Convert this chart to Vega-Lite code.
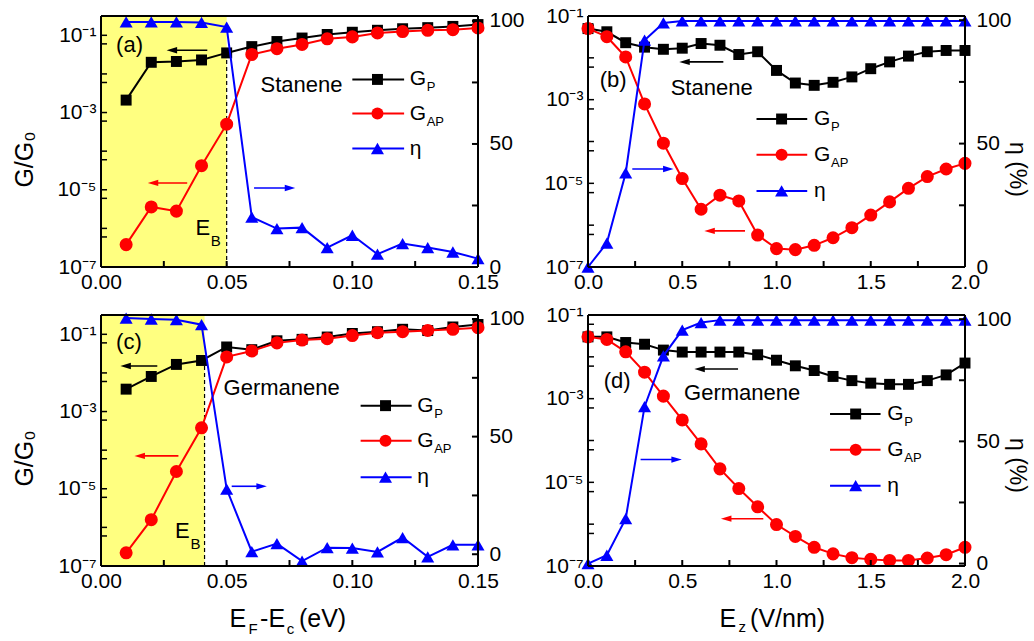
{
"$schema": "https://vega.github.io/schema/vega-lite/v6.json",
"background": "white",
"padding": {"left": 12, "top": 5, "right": 5, "bottom": 5},
"config": {
 "font": "Liberation Sans",
 "view": {"stroke": null},
 "axis": {"domain": false, "grid": false, "ticks": false, "tickSize": 0, "labelColor": "#000", "labelFont": "Liberation Sans", "labelFontSize": 21, "labelPadding": 5, "labelOverlap": false, "labelFlush": false, "titleColor": "#000", "titleFont": "Liberation Sans", "titleFontSize": 25, "titleFontWeight": "normal"},
 "axisBottom": {"labelPadding": 4},
 "axisRight": {"labelPadding": 11},
 "text": {"font": "Liberation Sans", "color": "#000"}
},
"datasets": {
 "series": [
  {"p":"a","x":0.01,"gp":0.0021,"gap":3.8e-7,"eta":99.6},
  {"p":"a","x":0.02,"gp":0.020,"gap":3.6e-6,"eta":99.6},
  {"p":"a","x":0.03,"gp":0.021,"gap":2.8e-6,"eta":99.6},
  {"p":"a","x":0.04,"gp":0.023,"gap":4.2e-5,"eta":99.4},
  {"p":"a","x":0.05,"gp":0.035,"gap":5.0e-4,"eta":97.5},
  {"p":"a","x":0.06,"gp":0.051,"gap":0.032,"eta":20.3},
  {"p":"a","x":0.07,"gp":0.069,"gap":0.045,"eta":15.6},
  {"p":"a","x":0.08,"gp":0.085,"gap":0.058,"eta":16.0},
  {"p":"a","x":0.09,"gp":0.105,"gap":0.081,"eta":7.9},
  {"p":"a","x":0.10,"gp":0.12,"gap":0.091,"eta":12.9},
  {"p":"a","x":0.11,"gp":0.135,"gap":0.115,"eta":5.2},
  {"p":"a","x":0.12,"gp":0.148,"gap":0.125,"eta":9.5},
  {"p":"a","x":0.13,"gp":0.158,"gap":0.135,"eta":7.9},
  {"p":"a","x":0.14,"gp":0.17,"gap":0.14,"eta":6.1},
  {"p":"a","x":0.15,"gp":0.19,"gap":0.155,"eta":3.4},
  {"p":"b","x":0.0,"gp":0.050,"gap":0.050,"eta":0},
  {"p":"b","x":0.1,"gp":0.042,"gap":0.032,"eta":9.7},
  {"p":"b","x":0.2,"gp":0.023,"gap":0.0105,"eta":38.1},
  {"p":"b","x":0.3,"gp":0.018,"gap":7.9e-4,"eta":91.9},
  {"p":"b","x":0.4,"gp":0.016,"gap":9.1e-5,"eta":98.9},
  {"p":"b","x":0.5,"gp":0.017,"gap":1.3e-5,"eta":99.7},
  {"p":"b","x":0.6,"gp":0.022,"gap":2.4e-6,"eta":99.7},
  {"p":"b","x":0.7,"gp":0.020,"gap":5.2e-6,"eta":99.7},
  {"p":"b","x":0.8,"gp":0.012,"gap":3.8e-6,"eta":99.7},
  {"p":"b","x":0.9,"gp":0.014,"gap":5.8e-7,"eta":99.7},
  {"p":"b","x":1.0,"gp":0.0050,"gap":2.75e-7,"eta":99.7},
  {"p":"b","x":1.1,"gp":0.0025,"gap":2.6e-7,"eta":99.7},
  {"p":"b","x":1.2,"gp":0.0022,"gap":3.3e-7,"eta":99.7},
  {"p":"b","x":1.3,"gp":0.0026,"gap":5.0e-7,"eta":99.7},
  {"p":"b","x":1.4,"gp":0.0035,"gap":8.7e-7,"eta":99.7},
  {"p":"b","x":1.5,"gp":0.0055,"gap":1.74e-6,"eta":99.7},
  {"p":"b","x":1.6,"gp":0.0080,"gap":3.6e-6,"eta":99.7},
  {"p":"b","x":1.7,"gp":0.011,"gap":7.6e-6,"eta":99.7},
  {"p":"b","x":1.8,"gp":0.014,"gap":1.45e-5,"eta":99.7},
  {"p":"b","x":1.9,"gp":0.015,"gap":2.2e-5,"eta":99.7},
  {"p":"b","x":2.0,"gp":0.015,"gap":3.0e-5,"eta":99.7},
  {"p":"c","x":0.01,"gp":0.0038,"gap":2.2e-7,"eta":100.4},
  {"p":"c","x":0.02,"gp":0.0081,"gap":1.58e-6,"eta":100},
  {"p":"c","x":0.03,"gp":0.0166,"gap":2.8e-5,"eta":99.7},
  {"p":"c","x":0.04,"gp":0.021,"gap":3.8e-4,"eta":97.6},
  {"p":"c","x":0.05,"gp":0.047,"gap":0.026,"eta":27.7},
  {"p":"c","x":0.06,"gp":0.040,"gap":0.037,"eta":1.1},
  {"p":"c","x":0.07,"gp":0.068,"gap":0.060,"eta":4.5},
  {"p":"c","x":0.08,"gp":0.074,"gap":0.071,"eta":-2.9},
  {"p":"c","x":0.09,"gp":0.085,"gap":0.077,"eta":2.8},
  {"p":"c","x":0.10,"gp":0.105,"gap":0.093,"eta":2.6},
  {"p":"c","x":0.11,"gp":0.117,"gap":0.11,"eta":1.0},
  {"p":"c","x":0.12,"gp":0.135,"gap":0.117,"eta":7.1},
  {"p":"c","x":0.13,"gp":0.125,"gap":0.126,"eta":-1.1},
  {"p":"c","x":0.14,"gp":0.155,"gap":0.135,"eta":4.0},
  {"p":"c","x":0.15,"gp":0.18,"gap":0.148,"eta":4.0},
  {"p":"d","x":0.0,"gp":0.030,"gap":0.030,"eta":0},
  {"p":"d","x":0.1,"gp":0.030,"gap":0.026,"eta":3.4},
  {"p":"d","x":0.2,"gp":0.022,"gap":0.0132,"eta":18.4},
  {"p":"d","x":0.3,"gp":0.020,"gap":0.0043,"eta":64.2},
  {"p":"d","x":0.4,"gp":0.0145,"gap":0.00115,"eta":85.0},
  {"p":"d","x":0.5,"gp":0.013,"gap":3.1e-4,"eta":95.5},
  {"p":"d","x":0.6,"gp":0.013,"gap":8.3e-5,"eta":98.6},
  {"p":"d","x":0.7,"gp":0.013,"gap":2.1e-5,"eta":99.6},
  {"p":"d","x":0.8,"gp":0.013,"gap":7.1e-6,"eta":99.6},
  {"p":"d","x":0.9,"gp":0.0112,"gap":2.6e-6,"eta":99.6},
  {"p":"d","x":1.0,"gp":0.0083,"gap":9.8e-7,"eta":99.6},
  {"p":"d","x":1.1,"gp":0.0061,"gap":5.1e-7,"eta":99.6},
  {"p":"d","x":1.2,"gp":0.0047,"gap":2.8e-7,"eta":99.6},
  {"p":"d","x":1.3,"gp":0.0034,"gap":1.95e-7,"eta":99.6},
  {"p":"d","x":1.4,"gp":0.0027,"gap":1.58e-7,"eta":99.6},
  {"p":"d","x":1.5,"gp":0.00235,"gap":1.44e-7,"eta":99.6},
  {"p":"d","x":1.6,"gp":0.0022,"gap":1.36e-7,"eta":99.6},
  {"p":"d","x":1.7,"gp":0.0022,"gap":1.36e-7,"eta":99.6},
  {"p":"d","x":1.8,"gp":0.0027,"gap":1.55e-7,"eta":99.6},
  {"p":"d","x":1.9,"gp":0.0037,"gap":1.86e-7,"eta":99.6},
  {"p":"d","x":2.0,"gp":0.0071,"gap":2.8e-7,"eta":99.6}
 ],
 "shade": [
  {"p":"a","x0":0,"x1":0.05,"ylo":1e-7,"ytop":0.035},
  {"p":"c","x0":0,"x1":0.0412,"ylo":1e-7,"ytop":0.018}
 ],
 "notes": [
  {"p":"a","x":0.01134,"y":0.0553,"t":"(a)","sub":""},
  {"p":"a","x":0.0798,"y":0.0051,"t":"Stanene","sub":""},
  {"p":"a","x":0.0405,"y":1.04e-6,"t":"E","sub":"B"},
  {"p":"b","x":0.133,"y":0.0030,"t":"(b)","sub":""},
  {"p":"b","x":0.656,"y":0.0019,"t":"Stanene","sub":""},
  {"p":"c","x":0.0111,"y":0.062,"t":"(c)","sub":""},
  {"p":"c","x":0.0719,"y":0.0041,"t":"Germanene","sub":""},
  {"p":"c","x":0.0324,"y":7.9e-7,"t":"E","sub":"B"},
  {"p":"d","x":0.155,"y":0.0027,"t":"(d)","sub":""},
  {"p":"d","x":0.818,"y":0.00135,"t":"Germanene","sub":""}
 ],
 "legend": [
  {"p":"a","lx1":0.100,"lx2":0.1206,"lxm":0.110,"lxt":0.1228,"y":7.2e-3,"s":"GP","t":"G","sub":"P"},
  {"p":"a","lx1":0.100,"lx2":0.1206,"lxm":0.110,"lxt":0.1228,"y":9.4e-4,"s":"GAP","t":"G","sub":"AP"},
  {"p":"a","lx1":0.100,"lx2":0.1206,"lxm":0.110,"lxt":0.1228,"y":1.17e-4,"s":"eta","t":"η","sub":""},
  {"p":"b","lx1":0.894,"lx2":1.163,"lxm":1.027,"lxt":1.199,"y":3.45e-4,"s":"GP","t":"G","sub":"P"},
  {"p":"b","lx1":0.894,"lx2":1.163,"lxm":1.027,"lxt":1.199,"y":4.8e-5,"s":"GAP","t":"G","sub":"AP"},
  {"p":"b","lx1":0.894,"lx2":1.163,"lxm":1.027,"lxt":1.199,"y":6.6e-6,"s":"eta","t":"η","sub":""},
  {"p":"c","lx1":0.1033,"lx2":0.1236,"lxm":0.1132,"lxt":0.1258,"y":1.42e-3,"s":"GP","t":"G","sub":"P"},
  {"p":"c","lx1":0.1033,"lx2":0.1236,"lxm":0.1132,"lxt":0.1258,"y":1.76e-4,"s":"GAP","t":"G","sub":"AP"},
  {"p":"c","lx1":0.1033,"lx2":0.1236,"lxm":0.1132,"lxt":0.1258,"y":2.0e-5,"s":"eta","t":"η","sub":""},
  {"p":"d","lx1":1.284,"lx2":1.552,"lxm":1.420,"lxt":1.588,"y":4.3e-4,"s":"GP","t":"G","sub":"P"},
  {"p":"d","lx1":1.284,"lx2":1.552,"lxm":1.420,"lxt":1.588,"y":6.0e-5,"s":"GAP","t":"G","sub":"AP"},
  {"p":"d","lx1":1.284,"lx2":1.552,"lxm":1.420,"lxt":1.588,"y":8.3e-6,"s":"eta","t":"η","sub":""}
 ],
 "arrows": [
  {"p":"a","x1":0.0423,"x2":0.0282,"y":0.041,"s":"GP","dir":"L"},
  {"p":"a","x1":0.0343,"x2":0.0207,"y":1.5e-5,"s":"GAP","dir":"L"},
  {"p":"a","x1":0.0609,"x2":0.0752,"y":1.11e-5,"s":"eta","dir":"R"},
  {"p":"b","x1":0.718,"x2":0.512,"y":8.0e-3,"s":"GP","dir":"L"},
  {"p":"b","x1":0.235,"x2":0.426,"y":2.2e-5,"s":"eta","dir":"R"},
  {"p":"b","x1":0.833,"x2":0.645,"y":7.3e-7,"s":"GAP","dir":"L"},
  {"p":"c","x1":0.0224,"x2":0.0098,"y":0.0151,"s":"GP","dir":"L"},
  {"p":"c","x1":0.0308,"x2":0.0154,"y":7.1e-5,"s":"GAP","dir":"L"},
  {"p":"c","x1":0.052,"x2":0.0639,"y":1.16e-5,"s":"eta","dir":"R"},
  {"p":"d","x1":0.796,"x2":0.592,"y":5.1e-3,"s":"GP","dir":"L"},
  {"p":"d","x1":0.279,"x2":0.470,"y":3.5e-5,"s":"eta","dir":"R"},
  {"p":"d","x1":0.930,"x2":0.733,"y":1.35e-6,"s":"GAP","dir":"L"}
 ],
 "segs": [
  {"p":"a","g":"f","s":"GP","x1":0,"x2":0,"y1":0,"y2":102},{"p":"a","g":"f","s":"GP","x1":0.15,"x2":0.15,"y1":0,"y2":102},{"p":"a","g":"f","s":"GP","x1":0,"x2":0.15,"y1":0,"y2":0},{"p":"a","g":"f","s":"GP","x1":0,"x2":0.15,"y1":102,"y2":102},
  {"p":"a","g":"t","s":"GP","x1":0.025,"x2":0.025,"y1":0,"y2":2.44},{"p":"a","g":"t","s":"GP","x1":0.05,"x2":0.05,"y1":0,"y2":2.44},{"p":"a","g":"t","s":"GP","x1":0.075,"x2":0.075,"y1":0,"y2":2.44},{"p":"a","g":"t","s":"GP","x1":0.1,"x2":0.1,"y1":0,"y2":2.44},{"p":"a","g":"t","s":"GP","x1":0.125,"x2":0.125,"y1":0,"y2":2.44},
  {"p":"a","g":"t","s":"GP","x1":0.1476,"x2":0.15,"y1":25,"y2":25},{"p":"a","g":"t","s":"GP","x1":0.1476,"x2":0.15,"y1":50,"y2":50},{"p":"a","g":"t","s":"GP","x1":0.1476,"x2":0.15,"y1":75,"y2":75},{"p":"a","g":"t","s":"GP","x1":0.1476,"x2":0.15,"y1":100,"y2":100},
  {"p":"b","g":"f","s":"GP","x1":0,"x2":0,"y1":0,"y2":101.7},{"p":"b","g":"f","s":"GP","x1":2,"x2":2,"y1":0,"y2":101.7},{"p":"b","g":"f","s":"GP","x1":0,"x2":2,"y1":0,"y2":0},{"p":"b","g":"f","s":"GP","x1":0,"x2":2,"y1":101.7,"y2":101.7},
  {"p":"b","g":"t","s":"GP","x1":0.25,"x2":0.25,"y1":0,"y2":2.43},{"p":"b","g":"t","s":"GP","x1":0.5,"x2":0.5,"y1":0,"y2":2.43},{"p":"b","g":"t","s":"GP","x1":0.75,"x2":0.75,"y1":0,"y2":2.43},{"p":"b","g":"t","s":"GP","x1":1,"x2":1,"y1":0,"y2":2.43},{"p":"b","g":"t","s":"GP","x1":1.25,"x2":1.25,"y1":0,"y2":2.43},{"p":"b","g":"t","s":"GP","x1":1.5,"x2":1.5,"y1":0,"y2":2.43},{"p":"b","g":"t","s":"GP","x1":1.75,"x2":1.75,"y1":0,"y2":2.43},
  {"p":"b","g":"t","s":"GP","x1":1.968,"x2":2,"y1":25,"y2":25},{"p":"b","g":"t","s":"GP","x1":1.968,"x2":2,"y1":50,"y2":50},{"p":"b","g":"t","s":"GP","x1":1.968,"x2":2,"y1":75,"y2":75},{"p":"b","g":"t","s":"GP","x1":1.968,"x2":2,"y1":100,"y2":100},
  {"p":"c","g":"f","s":"GP","x1":0,"x2":0,"y1":-5,"y2":101.7},{"p":"c","g":"f","s":"GP","x1":0.15,"x2":0.15,"y1":-5,"y2":101.7},{"p":"c","g":"f","s":"GP","x1":0,"x2":0.15,"y1":-5,"y2":-5},{"p":"c","g":"f","s":"GP","x1":0,"x2":0.15,"y1":101.7,"y2":101.7},
  {"p":"c","g":"t","s":"GP","x1":0.025,"x2":0.025,"y1":-5,"y2":-2.45},{"p":"c","g":"t","s":"GP","x1":0.05,"x2":0.05,"y1":-5,"y2":-2.45},{"p":"c","g":"t","s":"GP","x1":0.075,"x2":0.075,"y1":-5,"y2":-2.45},{"p":"c","g":"t","s":"GP","x1":0.1,"x2":0.1,"y1":-5,"y2":-2.45},{"p":"c","g":"t","s":"GP","x1":0.125,"x2":0.125,"y1":-5,"y2":-2.45},
  {"p":"c","g":"t","s":"GP","x1":0.1476,"x2":0.15,"y1":0,"y2":0},{"p":"c","g":"t","s":"GP","x1":0.1476,"x2":0.15,"y1":25,"y2":25},{"p":"c","g":"t","s":"GP","x1":0.1476,"x2":0.15,"y1":50,"y2":50},{"p":"c","g":"t","s":"GP","x1":0.1476,"x2":0.15,"y1":75,"y2":75},{"p":"c","g":"t","s":"GP","x1":0.1476,"x2":0.15,"y1":100,"y2":100},
  {"p":"d","g":"f","s":"GP","x1":0,"x2":0,"y1":-1,"y2":101.7},{"p":"d","g":"f","s":"GP","x1":2,"x2":2,"y1":-1,"y2":101.7},{"p":"d","g":"f","s":"GP","x1":0,"x2":2,"y1":-1,"y2":-1},{"p":"d","g":"f","s":"GP","x1":0,"x2":2,"y1":101.7,"y2":101.7},
  {"p":"d","g":"t","s":"GP","x1":0.25,"x2":0.25,"y1":-1,"y2":1.45},{"p":"d","g":"t","s":"GP","x1":0.5,"x2":0.5,"y1":-1,"y2":1.45},{"p":"d","g":"t","s":"GP","x1":0.75,"x2":0.75,"y1":-1,"y2":1.45},{"p":"d","g":"t","s":"GP","x1":1,"x2":1,"y1":-1,"y2":1.45},{"p":"d","g":"t","s":"GP","x1":1.25,"x2":1.25,"y1":-1,"y2":1.45},{"p":"d","g":"t","s":"GP","x1":1.5,"x2":1.5,"y1":-1,"y2":1.45},{"p":"d","g":"t","s":"GP","x1":1.75,"x2":1.75,"y1":-1,"y2":1.45},
  {"p":"d","g":"t","s":"GP","x1":1.968,"x2":2,"y1":0,"y2":0},{"p":"d","g":"t","s":"GP","x1":1.968,"x2":2,"y1":25,"y2":25},{"p":"d","g":"t","s":"GP","x1":1.968,"x2":2,"y1":50,"y2":50},{"p":"d","g":"t","s":"GP","x1":1.968,"x2":2,"y1":75,"y2":75},{"p":"d","g":"t","s":"GP","x1":1.968,"x2":2,"y1":100,"y2":100}
 ],
 "lticks": [
  {"p":"a","s":"GP","x1":0,"x2":0.0024,"y":6e-7},{"p":"a","s":"GP","x1":0,"x2":0.0024,"y":1e-6},{"p":"a","s":"GP","x1":0,"x2":0.0024,"y":6e-6},{"p":"a","s":"GP","x1":0,"x2":0.0024,"y":1e-5},{"p":"a","s":"GP","x1":0,"x2":0.0024,"y":6e-5},{"p":"a","s":"GP","x1":0,"x2":0.0024,"y":1e-4},{"p":"a","s":"GP","x1":0,"x2":0.0024,"y":6e-4},{"p":"a","s":"GP","x1":0,"x2":0.0024,"y":1e-3},{"p":"a","s":"GP","x1":0,"x2":0.0024,"y":6e-3},{"p":"a","s":"GP","x1":0,"x2":0.0024,"y":1e-2},{"p":"a","s":"GP","x1":0,"x2":0.0024,"y":6e-2},{"p":"a","s":"GP","x1":0,"x2":0.0024,"y":1e-1},
  {"p":"b","s":"GP","x1":0,"x2":0.0318,"y":6e-7},{"p":"b","s":"GP","x1":0,"x2":0.0318,"y":1e-6},{"p":"b","s":"GP","x1":0,"x2":0.0318,"y":6e-6},{"p":"b","s":"GP","x1":0,"x2":0.0318,"y":1e-5},{"p":"b","s":"GP","x1":0,"x2":0.0318,"y":6e-5},{"p":"b","s":"GP","x1":0,"x2":0.0318,"y":1e-4},{"p":"b","s":"GP","x1":0,"x2":0.0318,"y":6e-4},{"p":"b","s":"GP","x1":0,"x2":0.0318,"y":1e-3},{"p":"b","s":"GP","x1":0,"x2":0.0318,"y":6e-3},{"p":"b","s":"GP","x1":0,"x2":0.0318,"y":1e-2},{"p":"b","s":"GP","x1":0,"x2":0.0318,"y":6e-2},
  {"p":"c","s":"GP","x1":0,"x2":0.0024,"y":6e-7},{"p":"c","s":"GP","x1":0,"x2":0.0024,"y":1e-6},{"p":"c","s":"GP","x1":0,"x2":0.0024,"y":6e-6},{"p":"c","s":"GP","x1":0,"x2":0.0024,"y":1e-5},{"p":"c","s":"GP","x1":0,"x2":0.0024,"y":6e-5},{"p":"c","s":"GP","x1":0,"x2":0.0024,"y":1e-4},{"p":"c","s":"GP","x1":0,"x2":0.0024,"y":6e-4},{"p":"c","s":"GP","x1":0,"x2":0.0024,"y":1e-3},{"p":"c","s":"GP","x1":0,"x2":0.0024,"y":6e-3},{"p":"c","s":"GP","x1":0,"x2":0.0024,"y":1e-2},{"p":"c","s":"GP","x1":0,"x2":0.0024,"y":6e-2},{"p":"c","s":"GP","x1":0,"x2":0.0024,"y":1e-1},
  {"p":"d","s":"GP","x1":0,"x2":0.0318,"y":6e-7},{"p":"d","s":"GP","x1":0,"x2":0.0318,"y":1e-6},{"p":"d","s":"GP","x1":0,"x2":0.0318,"y":6e-6},{"p":"d","s":"GP","x1":0,"x2":0.0318,"y":1e-5},{"p":"d","s":"GP","x1":0,"x2":0.0318,"y":6e-5},{"p":"d","s":"GP","x1":0,"x2":0.0318,"y":1e-4},{"p":"d","s":"GP","x1":0,"x2":0.0318,"y":6e-4},{"p":"d","s":"GP","x1":0,"x2":0.0318,"y":1e-3},{"p":"d","s":"GP","x1":0,"x2":0.0318,"y":6e-3},{"p":"d","s":"GP","x1":0,"x2":0.0318,"y":1e-2},{"p":"d","s":"GP","x1":0,"x2":0.0318,"y":6e-2}
 ]
},
"columns": 2,
"spacing": {"row": 48, "column": 110},
"bounds": "flush",
"concat": [
 {
  "width": 377, "height": 251,
  "resolve": {"scale": {"y": "independent"}, "axis": {"x": "independent", "y": "independent"}},
  "layer": [
   {"layer": [
    {"data": {"name": "shade"}, "transform": [{"filter": "datum.p == 'a'"}],
     "mark": {"type": "rect", "color": "#ffff80"},
     "encoding": {
      "x": {"field": "x0", "type": "quantitative", "scale": {"domain": [0, 0.15], "nice": false, "zero": false},
            "axis": {"orient": "bottom", "values": [0, 0.05, 0.1, 0.15], "format": ".2f", "title": null}},
      "x2": {"field": "x1"}}},
    {"data": {"name": "shade"}, "transform": [{"filter": "datum.p == 'a'"}],
     "mark": {"type": "rule", "color": "#000", "strokeWidth": 1.2, "strokeDash": [4, 3]},
     "encoding": {
      "x": {"field": "x1", "type": "quantitative", "scale": {"domain": [0, 0.15], "nice": false, "zero": false}},
      "y": {"field": "ylo", "type": "quantitative", "scale": {"type": "log", "domain": [1e-7, 0.3162], "nice": false},
            "axis": {"orient": "left", "values": [1e-7, 1e-5, 1e-3, 1e-1], "labelExpr": "datum.value==1e-7?'10⁻⁷':datum.value==1e-5?'10⁻⁵':datum.value==0.001?'10⁻³':datum.value==0.1?'10⁻¹':''", "title": "G/G₀", "titleX": -69, "titleY": 143, "titleAngle": -90, "titleAlign": "center", "titleBaseline": "alphabetic"}},
      "y2": {"field": "ytop"}}},
    {"data": {"name": "lticks"}, "transform": [{"filter": "datum.p == 'a'"}],
     "mark": {"type": "rule", "strokeWidth": 1.5, "strokeDash": [2000, 1]},
     "encoding": {"x": {"field": "x1", "type": "quantitative", "scale": {"domain": [0, 0.15], "nice": false, "zero": false}}, "x2": {"field": "x2"},
                  "y": {"field": "y", "type": "quantitative", "scale": {"type": "log", "domain": [1e-7, 0.3162], "nice": false}},
                  "color": {"field": "s", "type": "nominal", "scale": {"domain": ["GP", "GAP", "eta"], "range": ["#000000", "#ff0000", "#0000ff"]}, "legend": null}}},
    {"data": {"name": "series"}, "transform": [{"filter": "datum.p == 'a'"}],
     "mark": {"type": "line", "color": "#000", "strokeWidth": 2},
     "encoding": {"x": {"field": "x", "type": "quantitative", "scale": {"domain": [0, 0.15], "nice": false, "zero": false}},
                  "y": {"field": "gp", "type": "quantitative", "scale": {"type": "log", "domain": [1e-7, 0.3162], "nice": false}}}},
    {"data": {"name": "series"}, "transform": [{"filter": "datum.p == 'a'"}],
     "mark": {"type": "line", "color": "#ff0000", "strokeWidth": 2},
     "encoding": {"x": {"field": "x", "type": "quantitative", "scale": {"domain": [0, 0.15], "nice": false, "zero": false}},
                  "y": {"field": "gap", "type": "quantitative", "scale": {"type": "log", "domain": [1e-7, 0.3162], "nice": false}}}},
    {"data": {"name": "series"}, "transform": [{"filter": "datum.p == 'a'"}],
     "mark": {"type": "point", "shape": "square", "filled": true, "color": "#000", "size": 120, "opacity": 1},
     "encoding": {"x": {"field": "x", "type": "quantitative", "scale": {"domain": [0, 0.15], "nice": false, "zero": false}},
                  "y": {"field": "gp", "type": "quantitative", "scale": {"type": "log", "domain": [1e-7, 0.3162], "nice": false}}}},
    {"data": {"name": "series"}, "transform": [{"filter": "datum.p == 'a'"}],
     "mark": {"type": "point", "shape": "circle", "filled": true, "color": "#ff0000", "size": 170, "opacity": 1},
     "encoding": {"x": {"field": "x", "type": "quantitative", "scale": {"domain": [0, 0.15], "nice": false, "zero": false}},
                  "y": {"field": "gap", "type": "quantitative", "scale": {"type": "log", "domain": [1e-7, 0.3162], "nice": false}}}},
    {"data": {"name": "legend"}, "transform": [{"filter": "datum.p == 'a'"}],
     "mark": {"type": "rule", "strokeWidth": 2},
     "encoding": {"x": {"field": "lx1", "type": "quantitative", "scale": {"domain": [0, 0.15], "nice": false, "zero": false}}, "x2": {"field": "lx2"},
                  "y": {"field": "y", "type": "quantitative", "scale": {"type": "log", "domain": [1e-7, 0.3162], "nice": false}},
                  "color": {"field": "s", "type": "nominal", "scale": {"domain": ["GP", "GAP", "eta"], "range": ["#000000", "#ff0000", "#0000ff"]}, "legend": null}}},
    {"data": {"name": "legend"}, "transform": [{"filter": "datum.p == 'a'"}],
     "mark": {"type": "point", "filled": true, "opacity": 1},
     "encoding": {"x": {"field": "lxm", "type": "quantitative", "scale": {"domain": [0, 0.15], "nice": false, "zero": false}},
                  "y": {"field": "y", "type": "quantitative", "scale": {"type": "log", "domain": [1e-7, 0.3162], "nice": false}},
                  "color": {"field": "s", "type": "nominal", "scale": {"domain": ["GP", "GAP", "eta"], "range": ["#000000", "#ff0000", "#0000ff"]}, "legend": null},
                  "shape": {"field": "s", "type": "nominal", "scale": {"domain": ["GP", "GAP", "eta", "L", "R"], "range": ["square", "circle", "triangle-up", "M1,-0.6L-1,0L1,0.6Z", "M-1,-0.6L1,0L-1,0.6Z"]}, "legend": null},
                  "size": {"field": "s", "type": "nominal", "scale": {"domain": ["GP", "GAP", "eta"], "range": [120, 170, 170]}, "legend": null}}},
    {"data": {"name": "legend"}, "transform": [{"filter": "datum.p == 'a'"}],
     "mark": {"type": "text", "align": "left", "baseline": "middle", "fontSize": 21},
     "encoding": {"x": {"field": "lxt", "type": "quantitative", "scale": {"domain": [0, 0.15], "nice": false, "zero": false}},
                  "y": {"field": "y", "type": "quantitative", "scale": {"type": "log", "domain": [1e-7, 0.3162], "nice": false}},
                  "text": {"field": "t"}}},
    {"data": {"name": "legend"}, "transform": [{"filter": "datum.p == 'a' && datum.sub != ''"}],
     "mark": {"type": "text", "align": "left", "baseline": "middle", "fontSize": 13, "dx": 17, "dy": 8},
     "encoding": {"x": {"field": "lxt", "type": "quantitative", "scale": {"domain": [0, 0.15], "nice": false, "zero": false}},
                  "y": {"field": "y", "type": "quantitative", "scale": {"type": "log", "domain": [1e-7, 0.3162], "nice": false}},
                  "text": {"field": "sub"}}},
    {"data": {"name": "arrows"}, "transform": [{"filter": "datum.p == 'a'"}],
     "mark": {"type": "rule", "strokeWidth": 1.6},
     "encoding": {"x": {"field": "x1", "type": "quantitative", "scale": {"domain": [0, 0.15], "nice": false, "zero": false}}, "x2": {"field": "x2"},
                  "y": {"field": "y", "type": "quantitative", "scale": {"type": "log", "domain": [1e-7, 0.3162], "nice": false}},
                  "color": {"field": "s", "type": "nominal", "scale": {"domain": ["GP", "GAP", "eta"], "range": ["#000000", "#ff0000", "#0000ff"]}, "legend": null}}},
    {"data": {"name": "arrows"}, "transform": [{"filter": "datum.p == 'a'"}],
     "mark": {"type": "point", "filled": true, "opacity": 1, "size": 110},
     "encoding": {"x": {"field": "x2", "type": "quantitative", "scale": {"domain": [0, 0.15], "nice": false, "zero": false}},
                  "y": {"field": "y", "type": "quantitative", "scale": {"type": "log", "domain": [1e-7, 0.3162], "nice": false}},
                  "color": {"field": "s", "type": "nominal", "scale": {"domain": ["GP", "GAP", "eta"], "range": ["#000000", "#ff0000", "#0000ff"]}, "legend": null},
                  "shape": {"field": "dir", "type": "nominal", "scale": {"domain": ["GP", "GAP", "eta", "L", "R"], "range": ["square", "circle", "triangle-up", "M1,-0.6L-1,0L1,0.6Z", "M-1,-0.6L1,0L-1,0.6Z"]}, "legend": null}}},
    {"data": {"name": "notes"}, "transform": [{"filter": "datum.p == 'a'"}],
     "mark": {"type": "text", "align": "center", "baseline": "middle", "fontSize": 22},
     "encoding": {"x": {"field": "x", "type": "quantitative", "scale": {"domain": [0, 0.15], "nice": false, "zero": false}},
                  "y": {"field": "y", "type": "quantitative", "scale": {"type": "log", "domain": [1e-7, 0.3162], "nice": false}},
                  "text": {"field": "t"}}},
    {"data": {"name": "notes"}, "transform": [{"filter": "datum.p == 'a' && datum.sub != ''"}],
     "mark": {"type": "text", "align": "left", "baseline": "middle", "fontSize": 15, "dx": 8, "dy": 13},
     "encoding": {"x": {"field": "x", "type": "quantitative", "scale": {"domain": [0, 0.15], "nice": false, "zero": false}},
                  "y": {"field": "y", "type": "quantitative", "scale": {"type": "log", "domain": [1e-7, 0.3162], "nice": false}},
                  "text": {"field": "sub"}}}
   ]},
   {"layer": [
    {"data": {"name": "series"}, "transform": [{"filter": "datum.p == 'a'"}],
     "mark": {"type": "line", "color": "#0000ff", "strokeWidth": 2},
     "encoding": {"x": {"field": "x", "type": "quantitative", "scale": {"domain": [0, 0.15], "nice": false, "zero": false},
                        "axis": {"orient": "top", "labels": false, "title": null}},
                  "y": {"field": "eta", "type": "quantitative", "scale": {"domain": [0, 102], "nice": false, "zero": false},
                        "axis": {"orient": "right", "values": [0, 50, 100], "title": null}}}},
    {"data": {"name": "series"}, "transform": [{"filter": "datum.p == 'a'"}],
     "mark": {"type": "point", "shape": "triangle-up", "filled": true, "color": "#0000ff", "size": 170, "opacity": 1},
     "encoding": {"x": {"field": "x", "type": "quantitative", "scale": {"domain": [0, 0.15], "nice": false, "zero": false}},
                  "y": {"field": "eta", "type": "quantitative", "scale": {"domain": [0, 102], "nice": false, "zero": false}}}},
    {"data": {"name": "segs"}, "transform": [{"filter": "datum.p == 'a'"}],
     "mark": {"type": "rule", "strokeWidth": 2, "strokeDash": [2000, 1]},
     "encoding": {"x": {"field": "x1", "type": "quantitative", "scale": {"domain": [0, 0.15], "nice": false, "zero": false}}, "x2": {"field": "x2"},
                  "y": {"field": "y1", "type": "quantitative", "scale": {"domain": [0, 102], "nice": false, "zero": false}}, "y2": {"field": "y2"},
                  "color": {"field": "s", "type": "nominal", "scale": {"domain": ["GP", "GAP", "eta"], "range": ["#000000", "#ff0000", "#0000ff"]}, "legend": null}}}
   ]}
  ]
 },
 {
  "width": 377, "height": 251,
  "resolve": {"scale": {"y": "independent"}, "axis": {"x": "independent", "y": "independent"}},
  "layer": [
   {"layer": [
    {"data": {"name": "series"}, "transform": [{"filter": "datum.p == 'b'"}],
     "mark": {"type": "line", "color": "#000", "strokeWidth": 2},
     "encoding": {"x": {"field": "x", "type": "quantitative", "scale": {"domain": [0, 2], "nice": false, "zero": false},
                        "axis": {"orient": "bottom", "values": [0, 0.5, 1, 1.5, 2], "format": ".1f", "title": null}},
                  "y": {"field": "gp", "type": "quantitative", "scale": {"type": "log", "domain": [1e-7, 0.1], "nice": false},
                        "axis": {"orient": "left", "values": [1e-7, 1e-5, 1e-3, 1e-1], "labelExpr": "datum.value==1e-7?'10⁻⁷':datum.value==1e-5?'10⁻⁵':datum.value==0.001?'10⁻³':datum.value==0.1?'10⁻¹':''", "title": null}}}},
    {"data": {"name": "lticks"}, "transform": [{"filter": "datum.p == 'b'"}],
     "mark": {"type": "rule", "strokeWidth": 1.5, "strokeDash": [2000, 1]},
     "encoding": {"x": {"field": "x1", "type": "quantitative", "scale": {"domain": [0, 2], "nice": false, "zero": false}}, "x2": {"field": "x2"},
                  "y": {"field": "y", "type": "quantitative", "scale": {"type": "log", "domain": [1e-7, 0.1], "nice": false}},
                  "color": {"field": "s", "type": "nominal", "scale": {"domain": ["GP", "GAP", "eta"], "range": ["#000000", "#ff0000", "#0000ff"]}, "legend": null}}},
    {"data": {"name": "series"}, "transform": [{"filter": "datum.p == 'b'"}],
     "mark": {"type": "line", "color": "#ff0000", "strokeWidth": 2},
     "encoding": {"x": {"field": "x", "type": "quantitative", "scale": {"domain": [0, 2], "nice": false, "zero": false}},
                  "y": {"field": "gap", "type": "quantitative", "scale": {"type": "log", "domain": [1e-7, 0.1], "nice": false}}}},
    {"data": {"name": "series"}, "transform": [{"filter": "datum.p == 'b'"}],
     "mark": {"type": "point", "shape": "square", "filled": true, "color": "#000", "size": 120, "opacity": 1},
     "encoding": {"x": {"field": "x", "type": "quantitative", "scale": {"domain": [0, 2], "nice": false, "zero": false}},
                  "y": {"field": "gp", "type": "quantitative", "scale": {"type": "log", "domain": [1e-7, 0.1], "nice": false}}}},
    {"data": {"name": "series"}, "transform": [{"filter": "datum.p == 'b'"}],
     "mark": {"type": "point", "shape": "circle", "filled": true, "color": "#ff0000", "size": 170, "opacity": 1},
     "encoding": {"x": {"field": "x", "type": "quantitative", "scale": {"domain": [0, 2], "nice": false, "zero": false}},
                  "y": {"field": "gap", "type": "quantitative", "scale": {"type": "log", "domain": [1e-7, 0.1], "nice": false}}}},
    {"data": {"name": "legend"}, "transform": [{"filter": "datum.p == 'b'"}],
     "mark": {"type": "rule", "strokeWidth": 2},
     "encoding": {"x": {"field": "lx1", "type": "quantitative", "scale": {"domain": [0, 2], "nice": false, "zero": false}}, "x2": {"field": "lx2"},
                  "y": {"field": "y", "type": "quantitative", "scale": {"type": "log", "domain": [1e-7, 0.1], "nice": false}},
                  "color": {"field": "s", "type": "nominal", "scale": {"domain": ["GP", "GAP", "eta"], "range": ["#000000", "#ff0000", "#0000ff"]}, "legend": null}}},
    {"data": {"name": "legend"}, "transform": [{"filter": "datum.p == 'b'"}],
     "mark": {"type": "point", "filled": true, "opacity": 1},
     "encoding": {"x": {"field": "lxm", "type": "quantitative", "scale": {"domain": [0, 2], "nice": false, "zero": false}},
                  "y": {"field": "y", "type": "quantitative", "scale": {"type": "log", "domain": [1e-7, 0.1], "nice": false}},
                  "color": {"field": "s", "type": "nominal", "scale": {"domain": ["GP", "GAP", "eta"], "range": ["#000000", "#ff0000", "#0000ff"]}, "legend": null},
                  "shape": {"field": "s", "type": "nominal", "scale": {"domain": ["GP", "GAP", "eta", "L", "R"], "range": ["square", "circle", "triangle-up", "M1,-0.6L-1,0L1,0.6Z", "M-1,-0.6L1,0L-1,0.6Z"]}, "legend": null},
                  "size": {"field": "s", "type": "nominal", "scale": {"domain": ["GP", "GAP", "eta"], "range": [120, 170, 170]}, "legend": null}}},
    {"data": {"name": "legend"}, "transform": [{"filter": "datum.p == 'b'"}],
     "mark": {"type": "text", "align": "left", "baseline": "middle", "fontSize": 21},
     "encoding": {"x": {"field": "lxt", "type": "quantitative", "scale": {"domain": [0, 2], "nice": false, "zero": false}},
                  "y": {"field": "y", "type": "quantitative", "scale": {"type": "log", "domain": [1e-7, 0.1], "nice": false}},
                  "text": {"field": "t"}}},
    {"data": {"name": "legend"}, "transform": [{"filter": "datum.p == 'b' && datum.sub != ''"}],
     "mark": {"type": "text", "align": "left", "baseline": "middle", "fontSize": 13, "dx": 17, "dy": 8},
     "encoding": {"x": {"field": "lxt", "type": "quantitative", "scale": {"domain": [0, 2], "nice": false, "zero": false}},
                  "y": {"field": "y", "type": "quantitative", "scale": {"type": "log", "domain": [1e-7, 0.1], "nice": false}},
                  "text": {"field": "sub"}}},
    {"data": {"name": "arrows"}, "transform": [{"filter": "datum.p == 'b'"}],
     "mark": {"type": "rule", "strokeWidth": 1.6},
     "encoding": {"x": {"field": "x1", "type": "quantitative", "scale": {"domain": [0, 2], "nice": false, "zero": false}}, "x2": {"field": "x2"},
                  "y": {"field": "y", "type": "quantitative", "scale": {"type": "log", "domain": [1e-7, 0.1], "nice": false}},
                  "color": {"field": "s", "type": "nominal", "scale": {"domain": ["GP", "GAP", "eta"], "range": ["#000000", "#ff0000", "#0000ff"]}, "legend": null}}},
    {"data": {"name": "arrows"}, "transform": [{"filter": "datum.p == 'b'"}],
     "mark": {"type": "point", "filled": true, "opacity": 1, "size": 110},
     "encoding": {"x": {"field": "x2", "type": "quantitative", "scale": {"domain": [0, 2], "nice": false, "zero": false}},
                  "y": {"field": "y", "type": "quantitative", "scale": {"type": "log", "domain": [1e-7, 0.1], "nice": false}},
                  "color": {"field": "s", "type": "nominal", "scale": {"domain": ["GP", "GAP", "eta"], "range": ["#000000", "#ff0000", "#0000ff"]}, "legend": null},
                  "shape": {"field": "dir", "type": "nominal", "scale": {"domain": ["GP", "GAP", "eta", "L", "R"], "range": ["square", "circle", "triangle-up", "M1,-0.6L-1,0L1,0.6Z", "M-1,-0.6L1,0L-1,0.6Z"]}, "legend": null}}},
    {"data": {"name": "notes"}, "transform": [{"filter": "datum.p == 'b'"}],
     "mark": {"type": "text", "align": "center", "baseline": "middle", "fontSize": 22},
     "encoding": {"x": {"field": "x", "type": "quantitative", "scale": {"domain": [0, 2], "nice": false, "zero": false}},
                  "y": {"field": "y", "type": "quantitative", "scale": {"type": "log", "domain": [1e-7, 0.1], "nice": false}},
                  "text": {"field": "t"}}}
   ]},
   {"layer": [
    {"data": {"name": "series"}, "transform": [{"filter": "datum.p == 'b'"}],
     "mark": {"type": "line", "color": "#0000ff", "strokeWidth": 2},
     "encoding": {"x": {"field": "x", "type": "quantitative", "scale": {"domain": [0, 2], "nice": false, "zero": false},
                        "axis": {"orient": "top", "labels": false, "title": null}},
                  "y": {"field": "eta", "type": "quantitative", "scale": {"domain": [0, 101.7], "nice": false, "zero": false},
                        "axis": {"orient": "right", "values": [0, 50, 100], "title": "η (%)", "titleFontSize": 23, "titleX": 44, "titleY": 153, "titleAngle": 90, "titleAlign": "center", "titleBaseline": "alphabetic"}}}},
    {"data": {"name": "series"}, "transform": [{"filter": "datum.p == 'b'"}],
     "mark": {"type": "point", "shape": "triangle-up", "filled": true, "color": "#0000ff", "size": 170, "opacity": 1},
     "encoding": {"x": {"field": "x", "type": "quantitative", "scale": {"domain": [0, 2], "nice": false, "zero": false}},
                  "y": {"field": "eta", "type": "quantitative", "scale": {"domain": [0, 101.7], "nice": false, "zero": false}}}},
    {"data": {"name": "segs"}, "transform": [{"filter": "datum.p == 'b'"}],
     "mark": {"type": "rule", "strokeWidth": 2, "strokeDash": [2000, 1]},
     "encoding": {"x": {"field": "x1", "type": "quantitative", "scale": {"domain": [0, 2], "nice": false, "zero": false}}, "x2": {"field": "x2"},
                  "y": {"field": "y1", "type": "quantitative", "scale": {"domain": [0, 101.7], "nice": false, "zero": false}}, "y2": {"field": "y2"},
                  "color": {"field": "s", "type": "nominal", "scale": {"domain": ["GP", "GAP", "eta"], "range": ["#000000", "#ff0000", "#0000ff"]}, "legend": null}}}
   ]}
  ]
 },
 {
  "width": 377, "height": 251,
  "resolve": {"scale": {"y": "independent"}, "axis": {"x": "independent", "y": "independent"}},
  "layer": [
   {"layer": [
    {"data": {"name": "shade"}, "transform": [{"filter": "datum.p == 'c'"}],
     "mark": {"type": "rect", "color": "#ffff80"},
     "encoding": {
      "x": {"field": "x0", "type": "quantitative", "scale": {"domain": [0, 0.15], "nice": false, "zero": false},
            "axis": {"orient": "bottom", "values": [0, 0.05, 0.1, 0.15], "format": ".2f", "title": "E\u00a0\u00a0-E\u00a0\u00a0(eV)", "titleX": 128, "titleY": 60, "titleAlign": "left", "titleBaseline": "alphabetic"}},
      "x2": {"field": "x1"}}},
    {"data": {"name": "shade"}, "transform": [{"filter": "datum.p == 'c'"}],
     "mark": {"type": "rule", "color": "#000", "strokeWidth": 1.2, "strokeDash": [4, 3]},
     "encoding": {
      "x": {"field": "x1", "type": "quantitative", "scale": {"domain": [0, 0.15], "nice": false, "zero": false}},
      "y": {"field": "ylo", "type": "quantitative", "scale": {"type": "log", "domain": [1e-7, 0.3162], "nice": false},
            "axis": {"orient": "left", "values": [1e-7, 1e-5, 1e-3, 1e-1], "labelExpr": "datum.value==1e-7?'10⁻⁷':datum.value==1e-5?'10⁻⁵':datum.value==0.001?'10⁻³':datum.value==0.1?'10⁻¹':''", "title": "G/G₀", "titleX": -69, "titleY": 143, "titleAngle": -90, "titleAlign": "center", "titleBaseline": "alphabetic"}},
      "y2": {"field": "ytop"}}},
    {"data": {"name": "lticks"}, "transform": [{"filter": "datum.p == 'c'"}],
     "mark": {"type": "rule", "strokeWidth": 1.5, "strokeDash": [2000, 1]},
     "encoding": {"x": {"field": "x1", "type": "quantitative", "scale": {"domain": [0, 0.15], "nice": false, "zero": false}}, "x2": {"field": "x2"},
                  "y": {"field": "y", "type": "quantitative", "scale": {"type": "log", "domain": [1e-7, 0.3162], "nice": false}},
                  "color": {"field": "s", "type": "nominal", "scale": {"domain": ["GP", "GAP", "eta"], "range": ["#000000", "#ff0000", "#0000ff"]}, "legend": null}}},
    {"data": {"name": "series"}, "transform": [{"filter": "datum.p == 'c'"}],
     "mark": {"type": "line", "color": "#000", "strokeWidth": 2},
     "encoding": {"x": {"field": "x", "type": "quantitative", "scale": {"domain": [0, 0.15], "nice": false, "zero": false}},
                  "y": {"field": "gp", "type": "quantitative", "scale": {"type": "log", "domain": [1e-7, 0.3162], "nice": false}}}},
    {"data": {"name": "series"}, "transform": [{"filter": "datum.p == 'c'"}],
     "mark": {"type": "line", "color": "#ff0000", "strokeWidth": 2},
     "encoding": {"x": {"field": "x", "type": "quantitative", "scale": {"domain": [0, 0.15], "nice": false, "zero": false}},
                  "y": {"field": "gap", "type": "quantitative", "scale": {"type": "log", "domain": [1e-7, 0.3162], "nice": false}}}},
    {"data": {"name": "series"}, "transform": [{"filter": "datum.p == 'c'"}],
     "mark": {"type": "point", "shape": "square", "filled": true, "color": "#000", "size": 120, "opacity": 1},
     "encoding": {"x": {"field": "x", "type": "quantitative", "scale": {"domain": [0, 0.15], "nice": false, "zero": false}},
                  "y": {"field": "gp", "type": "quantitative", "scale": {"type": "log", "domain": [1e-7, 0.3162], "nice": false}}}},
    {"data": {"name": "series"}, "transform": [{"filter": "datum.p == 'c'"}],
     "mark": {"type": "point", "shape": "circle", "filled": true, "color": "#ff0000", "size": 170, "opacity": 1},
     "encoding": {"x": {"field": "x", "type": "quantitative", "scale": {"domain": [0, 0.15], "nice": false, "zero": false}},
                  "y": {"field": "gap", "type": "quantitative", "scale": {"type": "log", "domain": [1e-7, 0.3162], "nice": false}}}},
    {"data": {"name": "legend"}, "transform": [{"filter": "datum.p == 'c'"}],
     "mark": {"type": "rule", "strokeWidth": 2},
     "encoding": {"x": {"field": "lx1", "type": "quantitative", "scale": {"domain": [0, 0.15], "nice": false, "zero": false}}, "x2": {"field": "lx2"},
                  "y": {"field": "y", "type": "quantitative", "scale": {"type": "log", "domain": [1e-7, 0.3162], "nice": false}},
                  "color": {"field": "s", "type": "nominal", "scale": {"domain": ["GP", "GAP", "eta"], "range": ["#000000", "#ff0000", "#0000ff"]}, "legend": null}}},
    {"data": {"name": "legend"}, "transform": [{"filter": "datum.p == 'c'"}],
     "mark": {"type": "point", "filled": true, "opacity": 1},
     "encoding": {"x": {"field": "lxm", "type": "quantitative", "scale": {"domain": [0, 0.15], "nice": false, "zero": false}},
                  "y": {"field": "y", "type": "quantitative", "scale": {"type": "log", "domain": [1e-7, 0.3162], "nice": false}},
                  "color": {"field": "s", "type": "nominal", "scale": {"domain": ["GP", "GAP", "eta"], "range": ["#000000", "#ff0000", "#0000ff"]}, "legend": null},
                  "shape": {"field": "s", "type": "nominal", "scale": {"domain": ["GP", "GAP", "eta", "L", "R"], "range": ["square", "circle", "triangle-up", "M1,-0.6L-1,0L1,0.6Z", "M-1,-0.6L1,0L-1,0.6Z"]}, "legend": null},
                  "size": {"field": "s", "type": "nominal", "scale": {"domain": ["GP", "GAP", "eta"], "range": [120, 170, 170]}, "legend": null}}},
    {"data": {"name": "legend"}, "transform": [{"filter": "datum.p == 'c'"}],
     "mark": {"type": "text", "align": "left", "baseline": "middle", "fontSize": 21},
     "encoding": {"x": {"field": "lxt", "type": "quantitative", "scale": {"domain": [0, 0.15], "nice": false, "zero": false}},
                  "y": {"field": "y", "type": "quantitative", "scale": {"type": "log", "domain": [1e-7, 0.3162], "nice": false}},
                  "text": {"field": "t"}}},
    {"data": {"name": "legend"}, "transform": [{"filter": "datum.p == 'c' && datum.sub != ''"}],
     "mark": {"type": "text", "align": "left", "baseline": "middle", "fontSize": 13, "dx": 17, "dy": 8},
     "encoding": {"x": {"field": "lxt", "type": "quantitative", "scale": {"domain": [0, 0.15], "nice": false, "zero": false}},
                  "y": {"field": "y", "type": "quantitative", "scale": {"type": "log", "domain": [1e-7, 0.3162], "nice": false}},
                  "text": {"field": "sub"}}},
    {"data": {"name": "arrows"}, "transform": [{"filter": "datum.p == 'c'"}],
     "mark": {"type": "rule", "strokeWidth": 1.6},
     "encoding": {"x": {"field": "x1", "type": "quantitative", "scale": {"domain": [0, 0.15], "nice": false, "zero": false}}, "x2": {"field": "x2"},
                  "y": {"field": "y", "type": "quantitative", "scale": {"type": "log", "domain": [1e-7, 0.3162], "nice": false}},
                  "color": {"field": "s", "type": "nominal", "scale": {"domain": ["GP", "GAP", "eta"], "range": ["#000000", "#ff0000", "#0000ff"]}, "legend": null}}},
    {"data": {"name": "arrows"}, "transform": [{"filter": "datum.p == 'c'"}],
     "mark": {"type": "point", "filled": true, "opacity": 1, "size": 110},
     "encoding": {"x": {"field": "x2", "type": "quantitative", "scale": {"domain": [0, 0.15], "nice": false, "zero": false}},
                  "y": {"field": "y", "type": "quantitative", "scale": {"type": "log", "domain": [1e-7, 0.3162], "nice": false}},
                  "color": {"field": "s", "type": "nominal", "scale": {"domain": ["GP", "GAP", "eta"], "range": ["#000000", "#ff0000", "#0000ff"]}, "legend": null},
                  "shape": {"field": "dir", "type": "nominal", "scale": {"domain": ["GP", "GAP", "eta", "L", "R"], "range": ["square", "circle", "triangle-up", "M1,-0.6L-1,0L1,0.6Z", "M-1,-0.6L1,0L-1,0.6Z"]}, "legend": null}}},
    {"data": {"name": "notes"}, "transform": [{"filter": "datum.p == 'c'"}],
     "mark": {"type": "text", "align": "center", "baseline": "middle", "fontSize": 22},
     "encoding": {"x": {"field": "x", "type": "quantitative", "scale": {"domain": [0, 0.15], "nice": false, "zero": false}},
                  "y": {"field": "y", "type": "quantitative", "scale": {"type": "log", "domain": [1e-7, 0.3162], "nice": false}},
                  "text": {"field": "t"}}},
    {"data": {"name": "notes"}, "transform": [{"filter": "datum.p == 'c' && datum.sub != ''"}],
     "mark": {"type": "text", "align": "left", "baseline": "middle", "fontSize": 15, "dx": 8, "dy": 13},
     "encoding": {"x": {"field": "x", "type": "quantitative", "scale": {"domain": [0, 0.15], "nice": false, "zero": false}},
                  "y": {"field": "y", "type": "quantitative", "scale": {"type": "log", "domain": [1e-7, 0.3162], "nice": false}},
                  "text": {"field": "sub"}}}
   ]},
   {"layer": [
    {"data": {"name": "series"}, "transform": [{"filter": "datum.p == 'c'"}],
     "mark": {"type": "line", "color": "#0000ff", "strokeWidth": 2},
     "encoding": {"x": {"field": "x", "type": "quantitative", "scale": {"domain": [0, 0.15], "nice": false, "zero": false},
                        "axis": {"orient": "top", "labels": false, "title": "F\u00a0\u00a0\u00a0\u00a0\u00a0\u00a0\u00a0c", "titleFontSize": 15, "titleX": 147, "titleY": 318, "titleAlign": "left", "titleBaseline": "alphabetic"}},
                  "y": {"field": "eta", "type": "quantitative", "scale": {"domain": [-5, 101.7], "nice": false, "zero": false},
                        "axis": {"orient": "right", "values": [0, 50, 100], "title": null}}}},
    {"data": {"name": "series"}, "transform": [{"filter": "datum.p == 'c'"}],
     "mark": {"type": "point", "shape": "triangle-up", "filled": true, "color": "#0000ff", "size": 170, "opacity": 1},
     "encoding": {"x": {"field": "x", "type": "quantitative", "scale": {"domain": [0, 0.15], "nice": false, "zero": false}},
                  "y": {"field": "eta", "type": "quantitative", "scale": {"domain": [-5, 101.7], "nice": false, "zero": false}}}},
    {"data": {"name": "segs"}, "transform": [{"filter": "datum.p == 'c'"}],
     "mark": {"type": "rule", "strokeWidth": 2, "strokeDash": [2000, 1]},
     "encoding": {"x": {"field": "x1", "type": "quantitative", "scale": {"domain": [0, 0.15], "nice": false, "zero": false}}, "x2": {"field": "x2"},
                  "y": {"field": "y1", "type": "quantitative", "scale": {"domain": [-5, 101.7], "nice": false, "zero": false}}, "y2": {"field": "y2"},
                  "color": {"field": "s", "type": "nominal", "scale": {"domain": ["GP", "GAP", "eta"], "range": ["#000000", "#ff0000", "#0000ff"]}, "legend": null}}}
   ]}
  ]
 },
 {
  "width": 377, "height": 251,
  "resolve": {"scale": {"y": "independent"}, "axis": {"x": "independent", "y": "independent"}},
  "layer": [
   {"layer": [
    {"data": {"name": "series"}, "transform": [{"filter": "datum.p == 'd'"}],
     "mark": {"type": "line", "color": "#000", "strokeWidth": 2},
     "encoding": {"x": {"field": "x", "type": "quantitative", "scale": {"domain": [0, 2], "nice": false, "zero": false},
                        "axis": {"orient": "bottom", "values": [0, 0.5, 1, 1.5, 2], "format": ".1f", "title": "E\u00a0\u00a0(V/nm)", "titleX": 131, "titleY": 60, "titleAlign": "left", "titleBaseline": "alphabetic"}},
                  "y": {"field": "gp", "type": "quantitative", "scale": {"type": "log", "domain": [1e-7, 0.1], "nice": false},
                        "axis": {"orient": "left", "values": [1e-7, 1e-5, 1e-3, 1e-1], "labelExpr": "datum.value==1e-7?'10⁻⁷':datum.value==1e-5?'10⁻⁵':datum.value==0.001?'10⁻³':datum.value==0.1?'10⁻¹':''", "title": null}}}},
    {"data": {"name": "lticks"}, "transform": [{"filter": "datum.p == 'd'"}],
     "mark": {"type": "rule", "strokeWidth": 1.5, "strokeDash": [2000, 1]},
     "encoding": {"x": {"field": "x1", "type": "quantitative", "scale": {"domain": [0, 2], "nice": false, "zero": false}}, "x2": {"field": "x2"},
                  "y": {"field": "y", "type": "quantitative", "scale": {"type": "log", "domain": [1e-7, 0.1], "nice": false}},
                  "color": {"field": "s", "type": "nominal", "scale": {"domain": ["GP", "GAP", "eta"], "range": ["#000000", "#ff0000", "#0000ff"]}, "legend": null}}},
    {"data": {"name": "series"}, "transform": [{"filter": "datum.p == 'd'"}],
     "mark": {"type": "line", "color": "#ff0000", "strokeWidth": 2},
     "encoding": {"x": {"field": "x", "type": "quantitative", "scale": {"domain": [0, 2], "nice": false, "zero": false}},
                  "y": {"field": "gap", "type": "quantitative", "scale": {"type": "log", "domain": [1e-7, 0.1], "nice": false}}}},
    {"data": {"name": "series"}, "transform": [{"filter": "datum.p == 'd'"}],
     "mark": {"type": "point", "shape": "square", "filled": true, "color": "#000", "size": 120, "opacity": 1},
     "encoding": {"x": {"field": "x", "type": "quantitative", "scale": {"domain": [0, 2], "nice": false, "zero": false}},
                  "y": {"field": "gp", "type": "quantitative", "scale": {"type": "log", "domain": [1e-7, 0.1], "nice": false}}}},
    {"data": {"name": "series"}, "transform": [{"filter": "datum.p == 'd'"}],
     "mark": {"type": "point", "shape": "circle", "filled": true, "color": "#ff0000", "size": 170, "opacity": 1},
     "encoding": {"x": {"field": "x", "type": "quantitative", "scale": {"domain": [0, 2], "nice": false, "zero": false}},
                  "y": {"field": "gap", "type": "quantitative", "scale": {"type": "log", "domain": [1e-7, 0.1], "nice": false}}}},
    {"data": {"name": "legend"}, "transform": [{"filter": "datum.p == 'd'"}],
     "mark": {"type": "rule", "strokeWidth": 2},
     "encoding": {"x": {"field": "lx1", "type": "quantitative", "scale": {"domain": [0, 2], "nice": false, "zero": false}}, "x2": {"field": "lx2"},
                  "y": {"field": "y", "type": "quantitative", "scale": {"type": "log", "domain": [1e-7, 0.1], "nice": false}},
                  "color": {"field": "s", "type": "nominal", "scale": {"domain": ["GP", "GAP", "eta"], "range": ["#000000", "#ff0000", "#0000ff"]}, "legend": null}}},
    {"data": {"name": "legend"}, "transform": [{"filter": "datum.p == 'd'"}],
     "mark": {"type": "point", "filled": true, "opacity": 1},
     "encoding": {"x": {"field": "lxm", "type": "quantitative", "scale": {"domain": [0, 2], "nice": false, "zero": false}},
                  "y": {"field": "y", "type": "quantitative", "scale": {"type": "log", "domain": [1e-7, 0.1], "nice": false}},
                  "color": {"field": "s", "type": "nominal", "scale": {"domain": ["GP", "GAP", "eta"], "range": ["#000000", "#ff0000", "#0000ff"]}, "legend": null},
                  "shape": {"field": "s", "type": "nominal", "scale": {"domain": ["GP", "GAP", "eta", "L", "R"], "range": ["square", "circle", "triangle-up", "M1,-0.6L-1,0L1,0.6Z", "M-1,-0.6L1,0L-1,0.6Z"]}, "legend": null},
                  "size": {"field": "s", "type": "nominal", "scale": {"domain": ["GP", "GAP", "eta"], "range": [120, 170, 170]}, "legend": null}}},
    {"data": {"name": "legend"}, "transform": [{"filter": "datum.p == 'd'"}],
     "mark": {"type": "text", "align": "left", "baseline": "middle", "fontSize": 21},
     "encoding": {"x": {"field": "lxt", "type": "quantitative", "scale": {"domain": [0, 2], "nice": false, "zero": false}},
                  "y": {"field": "y", "type": "quantitative", "scale": {"type": "log", "domain": [1e-7, 0.1], "nice": false}},
                  "text": {"field": "t"}}},
    {"data": {"name": "legend"}, "transform": [{"filter": "datum.p == 'd' && datum.sub != ''"}],
     "mark": {"type": "text", "align": "left", "baseline": "middle", "fontSize": 13, "dx": 17, "dy": 8},
     "encoding": {"x": {"field": "lxt", "type": "quantitative", "scale": {"domain": [0, 2], "nice": false, "zero": false}},
                  "y": {"field": "y", "type": "quantitative", "scale": {"type": "log", "domain": [1e-7, 0.1], "nice": false}},
                  "text": {"field": "sub"}}},
    {"data": {"name": "arrows"}, "transform": [{"filter": "datum.p == 'd'"}],
     "mark": {"type": "rule", "strokeWidth": 1.6},
     "encoding": {"x": {"field": "x1", "type": "quantitative", "scale": {"domain": [0, 2], "nice": false, "zero": false}}, "x2": {"field": "x2"},
                  "y": {"field": "y", "type": "quantitative", "scale": {"type": "log", "domain": [1e-7, 0.1], "nice": false}},
                  "color": {"field": "s", "type": "nominal", "scale": {"domain": ["GP", "GAP", "eta"], "range": ["#000000", "#ff0000", "#0000ff"]}, "legend": null}}},
    {"data": {"name": "arrows"}, "transform": [{"filter": "datum.p == 'd'"}],
     "mark": {"type": "point", "filled": true, "opacity": 1, "size": 110},
     "encoding": {"x": {"field": "x2", "type": "quantitative", "scale": {"domain": [0, 2], "nice": false, "zero": false}},
                  "y": {"field": "y", "type": "quantitative", "scale": {"type": "log", "domain": [1e-7, 0.1], "nice": false}},
                  "color": {"field": "s", "type": "nominal", "scale": {"domain": ["GP", "GAP", "eta"], "range": ["#000000", "#ff0000", "#0000ff"]}, "legend": null},
                  "shape": {"field": "dir", "type": "nominal", "scale": {"domain": ["GP", "GAP", "eta", "L", "R"], "range": ["square", "circle", "triangle-up", "M1,-0.6L-1,0L1,0.6Z", "M-1,-0.6L1,0L-1,0.6Z"]}, "legend": null}}},
    {"data": {"name": "notes"}, "transform": [{"filter": "datum.p == 'd'"}],
     "mark": {"type": "text", "align": "center", "baseline": "middle", "fontSize": 22},
     "encoding": {"x": {"field": "x", "type": "quantitative", "scale": {"domain": [0, 2], "nice": false, "zero": false}},
                  "y": {"field": "y", "type": "quantitative", "scale": {"type": "log", "domain": [1e-7, 0.1], "nice": false}},
                  "text": {"field": "t"}}}
   ]},
   {"layer": [
    {"data": {"name": "series"}, "transform": [{"filter": "datum.p == 'd'"}],
     "mark": {"type": "line", "color": "#0000ff", "strokeWidth": 2},
     "encoding": {"x": {"field": "x", "type": "quantitative", "scale": {"domain": [0, 2], "nice": false, "zero": false},
                        "axis": {"orient": "top", "labels": false, "title": "z", "titleFontSize": 15, "titleX": 150, "titleY": 316, "titleAlign": "left", "titleBaseline": "alphabetic"}},
                  "y": {"field": "eta", "type": "quantitative", "scale": {"domain": [-1, 101.7], "nice": false, "zero": false},
                        "axis": {"orient": "right", "values": [0, 50, 100], "title": "η (%)", "titleFontSize": 23, "titleX": 44, "titleY": 150, "titleAngle": 90, "titleAlign": "center", "titleBaseline": "alphabetic"}}}},
    {"data": {"name": "series"}, "transform": [{"filter": "datum.p == 'd'"}],
     "mark": {"type": "point", "shape": "triangle-up", "filled": true, "color": "#0000ff", "size": 170, "opacity": 1},
     "encoding": {"x": {"field": "x", "type": "quantitative", "scale": {"domain": [0, 2], "nice": false, "zero": false}},
                  "y": {"field": "eta", "type": "quantitative", "scale": {"domain": [-1, 101.7], "nice": false, "zero": false}}}},
    {"data": {"name": "segs"}, "transform": [{"filter": "datum.p == 'd'"}],
     "mark": {"type": "rule", "strokeWidth": 2, "strokeDash": [2000, 1]},
     "encoding": {"x": {"field": "x1", "type": "quantitative", "scale": {"domain": [0, 2], "nice": false, "zero": false}}, "x2": {"field": "x2"},
                  "y": {"field": "y1", "type": "quantitative", "scale": {"domain": [-1, 101.7], "nice": false, "zero": false}}, "y2": {"field": "y2"},
                  "color": {"field": "s", "type": "nominal", "scale": {"domain": ["GP", "GAP", "eta"], "range": ["#000000", "#ff0000", "#0000ff"]}, "legend": null}}}
   ]}
  ]
 }
]
}
